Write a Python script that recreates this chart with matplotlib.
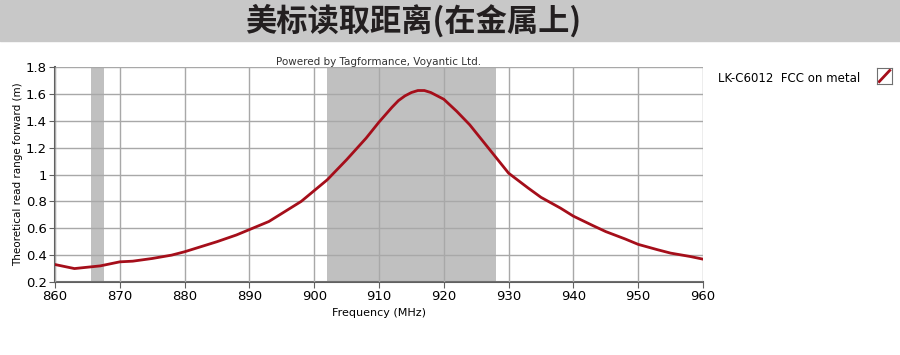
import matplotlib.pyplot as plt
from matplotlib.patches import Rectangle

# data
freq = [860, 861, 863, 865, 867, 870, 872, 875, 878, 880, 883, 885, 888, 890, 893, 895,
        898, 900, 902, 905, 908, 910, 912, 913, 914, 915, 916, 917, 918, 920, 922, 924,
        926, 928, 930, 933, 935, 938, 940, 943, 945, 948, 950, 953, 955, 958, 960]
rng = [0.33, 0.32, 0.30, 0.31, 0.32, 0.35, 0.355, 0.375, 0.40, 0.425, 0.47, 0.50, 0.55, 0.59,
       0.65, 0.71, 0.80, 0.88, 0.96, 1.11, 1.27, 1.39, 1.50, 1.55, 1.585, 1.61, 1.625, 1.625,
       1.61, 1.56, 1.47, 1.37, 1.25, 1.13, 1.01, 0.90, 0.83, 0.75, 0.69, 0.62, 0.575, 0.52,
       0.48, 0.44, 0.415, 0.39, 0.37]
bands = [(865.5, 867.5), (902, 928)]
xticks = list(range(860, 961, 10))
yticks = [0.2, 0.4, 0.6, 0.8, 1.0, 1.2, 1.4, 1.6, 1.8]
ylabels = ['0.2', '0.4', '0.6', '0.8', '1', '1.2', '1.4', '1.6', '1.8']

title = '美标读取距离(在金属上)'
series = 'LK-C6012  FCC on metal'

W, H = 900, 355
fig = plt.figure(figsize=(9, 3.55), dpi=100)

# grey title bar
fig.patches.append(Rectangle((0, 1 - 41 / H), 1, 41 / H, transform=fig.transFigure,
                             color='#c8c8c8', zorder=0))
fig.text(413 / W, 1 - 21 / H, title, ha='center', va='center', fontsize=22.5,
         fontweight='heavy', family=['Noto Sans CJK SC', 'DejaVu Sans'], color='#231f20')

ax = fig.add_axes([55 / W, 1 - 282 / H, (703 - 55) / W, (282 - 67) / H])
for a, b in bands:
    ax.axvspan(a, b, color='#c0c0c0', lw=0, zorder=1)
ax.plot(freq, rng, color='#a50e1a', lw=2, zorder=3)

ax.set_xlim(860, 960)
ax.set_ylim(0.2, 1.8)
ax.set_xticks(xticks)
ax.set_yticks(yticks)
ax.set_yticklabels(ylabels)
ax.grid(True, color='#a8a8a8', lw=1, zorder=2)
ax.set_axisbelow(False)
for s in ['top', 'right']:
    ax.spines[s].set_visible(False)
for s in ['left', 'bottom']:
    ax.spines[s].set_color('#606060')
    ax.spines[s].set_linewidth(1.5)
ax.tick_params(direction='out', length=4, color='#606060', labelsize=9.5, pad=2)
ax.set_xlabel('Frequency (MHz)', fontsize=8, labelpad=3)
ax.set_ylabel('Theoretical read range forward (m)', fontsize=7.5, labelpad=2)
ax.text(0.5, 1.0, 'Powered by Tagformance, Voyantic Ltd.', transform=ax.transAxes,
        ha='center', va='bottom', fontsize=7.5, color='#333333', zorder=5)

# legend
fig.text(718 / W, 1 - 78 / H, series, ha='left', va='center', fontsize=8.5)
lax = fig.add_axes([877 / W, 1 - 84 / H, 15 / W, 16 / H])
lax.set_xlim(0, 1)
lax.set_ylim(0, 1)
lax.plot([0.15, 0.85], [0.15, 0.85], color='#a50e1a', lw=2)
lax.set_xticks([])
lax.set_yticks([])
for s in lax.spines.values():
    s.set_color('#707070')

fig.savefig('out.png', dpi=100)
